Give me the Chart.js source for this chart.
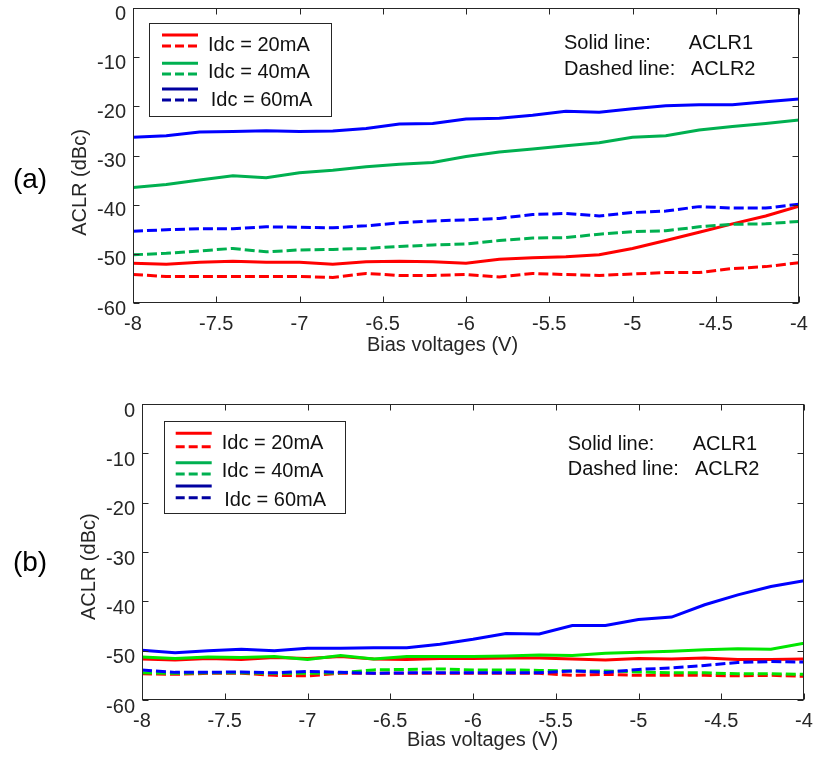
<!DOCTYPE html>
<html><head><meta charset="utf-8">
<script src="https://cdn.jsdelivr.net/npm/chart.js@4.4.1/dist/chart.umd.min.js"></script>
<style>
html,body{margin:0;padding:0;background:#fff;}
#wrap{position:relative;width:813px;height:757px;overflow:hidden;}
canvas{position:absolute;left:0;display:block;}
</style></head><body>
<div id="wrap">
<canvas id="ca" width="813" height="378" style="top:0"></canvas>
<canvas id="cb" width="813" height="379" style="top:378px"></canvas>
</div>
<script>
// ---------- data ----------
const voltages = [-8,-7.8,-7.6,-7.4,-7.2,-7,-6.8,-6.6,-6.4,-6.2,-6,-5.8,-5.6,-5.4,-5.2,-5,-4.8,-4.6,-4.4,-4.2,-4];
const xTickValues = [-8,-7.5,-7,-6.5,-6,-5.5,-5,-4.5,-4];
const yTickValues = [0,-10,-20,-30,-40,-50,-60];
const legendLabels = ['Idc = 20mA','Idc = 40mA','Idc = 60mA'];
const noteLabels = ['Solid line:','ACLR1','Dashed line:','ACLR2'];

// (a)
const aRedSolid   = [-51.9,-52.1,-51.7,-51.5,-51.7,-51.7,-52.1,-51.6,-51.5,-51.6,-51.9,-51.1,-50.8,-50.6,-50.2,-48.9,-47.3,-45.6,-43.9,-42.3,-40.3];
const aRedDashed  = [-54.2,-54.6,-54.6,-54.6,-54.6,-54.6,-54.8,-54.0,-54.4,-54.4,-54.2,-54.7,-54.0,-54.2,-54.4,-54.1,-53.8,-53.8,-53.0,-52.6,-51.8];
const aGreenSolid = [-36.5,-35.9,-35.0,-34.1,-34.5,-33.5,-33.0,-32.3,-31.8,-31.4,-30.2,-29.3,-28.7,-28.0,-27.4,-26.3,-26.0,-24.8,-24.1,-23.5,-22.8];
const aGreenDashed= [-50.2,-49.9,-49.4,-48.9,-49.6,-49.2,-49.1,-48.9,-48.5,-48.2,-48.0,-47.3,-46.8,-46.7,-46.0,-45.5,-45.3,-44.5,-44.0,-43.9,-43.4];
const aBlueSolid  = [-26.3,-26.0,-25.2,-25.1,-24.95,-25.1,-25.0,-24.5,-23.6,-23.5,-22.6,-22.4,-21.8,-21.0,-21.2,-20.5,-19.9,-19.7,-19.7,-19.05,-18.5];
const aBlueDashed = [-45.4,-45.1,-44.9,-44.9,-44.5,-44.6,-44.7,-44.3,-43.7,-43.3,-43.1,-42.8,-42.0,-41.8,-42.3,-41.6,-41.3,-40.4,-40.7,-40.7,-39.9];

// (b)
const bRedSolid   = [-51.7,-51.9,-51.6,-51.8,-51.4,-51.6,-51.2,-51.7,-51.8,-51.6,-51.6,-51.5,-51.5,-51.7,-51.9,-51.6,-51.7,-51.5,-51.8,-51.8,-51.7];
const bRedDashed  = [-54.7,-54.8,-54.6,-54.6,-55.0,-55.1,-54.6,-54.6,-54.6,-54.6,-54.6,-54.6,-54.6,-55.0,-54.8,-55.0,-55.0,-55.0,-55.1,-55.0,-55.2];
const bGreenSolid = [-51.3,-51.6,-51.3,-51.4,-51.2,-51.8,-51.0,-51.7,-51.2,-51.2,-51.2,-51.1,-50.9,-51.0,-50.5,-50.3,-50.1,-49.8,-49.6,-49.7,-48.5];
const bGreenDashed= [-54.5,-54.6,-54.5,-54.5,-54.6,-54.6,-54.5,-53.9,-53.8,-53.7,-53.9,-53.9,-54.0,-54.1,-54.1,-54.3,-54.5,-54.5,-54.7,-54.7,-54.8];
const bBlueSolid  = [-49.9,-50.4,-50.0,-49.7,-50.0,-49.5,-49.5,-49.4,-49.4,-48.7,-47.7,-46.5,-46.6,-44.9,-44.9,-43.7,-43.2,-40.7,-38.7,-37.0,-35.8];
const bBlueDashed = [-53.9,-54.4,-54.4,-54.3,-54.5,-54.2,-54.4,-54.6,-54.5,-54.5,-54.5,-54.5,-54.5,-54.1,-54.4,-53.8,-53.5,-53.0,-52.4,-52.2,-52.3];

// ---------- styles ----------
const FONT = '"Liberation Sans", Arial, Helvetica, sans-serif';
const AXIS_COLOR = '#262626';
const DASH = [10,4];
const legendColors = ['#ff0000','#00b050','#0000a0'];

function pts(arr){ return voltages.map((v,i)=>({x:v,y:arr[i]})); }
function ds(label, arr, color, dashed, order){
  return {label, data:pts(arr), borderColor:color, backgroundColor:color, borderWidth:3,
    borderDash: dashed ? DASH : [], pointRadius:0, tension:0, fill:false, order};
}

function decor(o){
  return {
    id:'decor',
    afterDatasetsDraw(chart){
      const ctx = chart.ctx, a = chart.chartArea, xs = chart.scales.x, ys = chart.scales.y;
      ctx.save();
      ctx.strokeStyle = AXIS_COLOR; ctx.lineWidth = 1;
      const L = Math.round(a.left)+0.5, R = Math.round(a.right)-0.5, T = Math.round(a.top)+0.5, B = Math.round(a.bottom)-0.5;
      ctx.strokeRect(L, T, R-L, B-T);
      ctx.beginPath();
      xTickValues.forEach(v=>{
        const px = Math.round(xs.getPixelForValue(v))+0.5;
        ctx.moveTo(px,B); ctx.lineTo(px,B-6);
        ctx.moveTo(px,T); ctx.lineTo(px,T+6);
      });
      yTickValues.forEach(v=>{
        const py = Math.round(ys.getPixelForValue(v))+0.5;
        ctx.moveTo(L,py); ctx.lineTo(L+6,py);
        ctx.moveTo(R,py); ctx.lineTo(R-6,py);
      });
      ctx.stroke();
      ctx.restore();
    },
    afterDraw(chart){
      const ctx = chart.ctx;
      ctx.save();
      ctx.textBaseline = 'middle';
      // panel label
      ctx.fillStyle = '#000';
      ctx.font = '28px ' + FONT; ctx.textAlign = 'center';
      ctx.fillText(o.panel, o.panelX, o.panelY);
      // axis titles
      ctx.fillStyle = AXIS_COLOR;
      ctx.font = '20px ' + FONT;
      ctx.fillText('Bias voltages (V)', o.xTitleX, o.xTitleY);
      ctx.save();
      ctx.translate(o.yTitleX, o.yTitleY); ctx.rotate(-Math.PI/2);
      ctx.fillText('ACLR (dBc)', 0, 0);
      ctx.restore();
      // legend box
      const lg = o.legend;
      ctx.fillStyle = '#fff';
      ctx.fillRect(lg.x1, lg.y1, lg.x2-lg.x1, lg.y2-lg.y1);
      ctx.strokeStyle = '#262626'; ctx.lineWidth = 1;
      ctx.strokeRect(Math.round(lg.x1)+0.5, Math.round(lg.y1)+0.5, Math.round(lg.x2-lg.x1), Math.round(lg.y2-lg.y1));
      ctx.lineWidth = 3;
      for (let i=0;i<3;i++){
        ctx.strokeStyle = legendColors[i];
        ctx.setLineDash([]);
        ctx.beginPath(); ctx.moveTo(lg.lx1, lg.ly[2*i]); ctx.lineTo(lg.lx2, lg.ly[2*i]); ctx.stroke();
        ctx.setLineDash([9,4]);
        ctx.beginPath(); ctx.moveTo(lg.lx1, lg.ly[2*i+1]); ctx.lineTo(lg.lx2, lg.ly[2*i+1]); ctx.stroke();
      }
      ctx.setLineDash([]);
      ctx.fillStyle = '#111';
      ctx.font = '20px ' + FONT; ctx.textAlign = 'left';
      for (let i=0;i<3;i++) ctx.fillText(legendLabels[i], lg.tx[i], lg.ty[i]);
      // note
      const n = o.note;
      ctx.fillText(noteLabels[0], n.x1, n.y1);
      ctx.fillText(noteLabels[1], n.x2a, n.y1);
      ctx.fillText(noteLabels[2], n.x1, n.y2);
      ctx.fillText(noteLabels[3], n.x2b, n.y2);
      ctx.restore();
    }
  };
}

function zeroPad(s){ s.paddingTop = 0; s.paddingBottom = 0; s.paddingLeft = 0; s.paddingRight = 0; }

function makeChart(id, datasets, geo, deco){
  return new Chart(document.getElementById(id), {
    type:'line',
    data:{datasets},
    options:{
      responsive:false, animation:false, devicePixelRatio:1,
      layout:{padding:{top:geo.top, right:geo.right, left:0, bottom:0}},
      plugins:{legend:{display:false}, tooltip:{enabled:false}},
      scales:{
        x:{type:'linear', min:-8, max:-4,
          grid:{display:false, drawTicks:false}, border:{display:false},
          afterBuildTicks: s => { s.ticks = xTickValues.map(v=>({value:v})); },
          afterFit: s => { s.height = geo.xH; zeroPad(s); },
          ticks:{padding:9, color:AXIS_COLOR, font:{family:FONT, size:20}, maxRotation:0, autoSkip:false,
            callback: v => String(Math.round(v*10)/10)}},
        y:{type:'linear', min:-60, max:0,
          grid:{display:false, drawTicks:false}, border:{display:false},
          afterBuildTicks: s => { s.ticks = yTickValues.map(v=>({value:v})); },
          afterFit: s => { s.width = geo.yW; zeroPad(s); },
          ticks:{padding:7, labelOffset:geo.labelOffset, color:AXIS_COLOR, font:{family:FONT, size:20},
            callback: v => String(Math.round(v))}}
      }
    },
    plugins:[decor(deco)]
  });
}

makeChart('ca', [
  ds('20mA ACLR1', aRedSolid, '#ff0000', false, 6),
  ds('20mA ACLR2', aRedDashed, '#ff0000', true, 5),
  ds('40mA ACLR1', aGreenSolid, '#00b050', false, 4),
  ds('40mA ACLR2', aGreenDashed, '#00b050', true, 3),
  ds('60mA ACLR1', aBlueSolid, '#0000ff', false, 2),
  ds('60mA ACLR2', aBlueDashed, '#0000ff', true, 1)
], {top:8, right:14, xH:75, yW:133, labelOffset:6}, {
  panel:'(a)', panelX:30, panelY:180,
  xTitleX:442.5, xTitleY:345, yTitleX:80, yTitleY:182.5,
  legend:{x1:149, y1:23, x2:331, y2:116, lx1:162, lx2:198,
    ly:[35,46,63.3,74,89,100], tx:[208,208,210.7], ty:[45,72.3,100]},
  note:{x1:564, y1:43, x2a:688.7, y2:69, x2b:691}
});

makeChart('cb', [
  ds('20mA ACLR1', bRedSolid, '#ff0000', false, 6),
  ds('20mA ACLR2', bRedDashed, '#ff0000', true, 5),
  ds('40mA ACLR1', bGreenSolid, '#00e600', false, 4),
  ds('40mA ACLR2', bGreenDashed, '#00e600', true, 3),
  ds('60mA ACLR1', bBlueSolid, '#0000ff', false, 2),
  ds('60mA ACLR2', bBlueDashed, '#0000ff', true, 1)
], {top:26, right:9, xH:57, yW:142, labelOffset:7}, {
  panel:'(b)', panelX:30, panelY:185.3,
  xTitleX:482.5, xTitleY:362, yTitleX:89, yTitleY:188.7,
  legend:{x1:164, y1:43, x2:345, y2:135, lx1:175.7, lx2:211.7,
    ly:[55.3,68.7,84.7,96,108,119.7], tx:[221.7,221.7,224.3], ty:[65.3,93,122]},
  note:{x1:567.7, y1:66.3, x2a:692.7, y2:91.3, x2b:695}
});
</script>
</body></html>
